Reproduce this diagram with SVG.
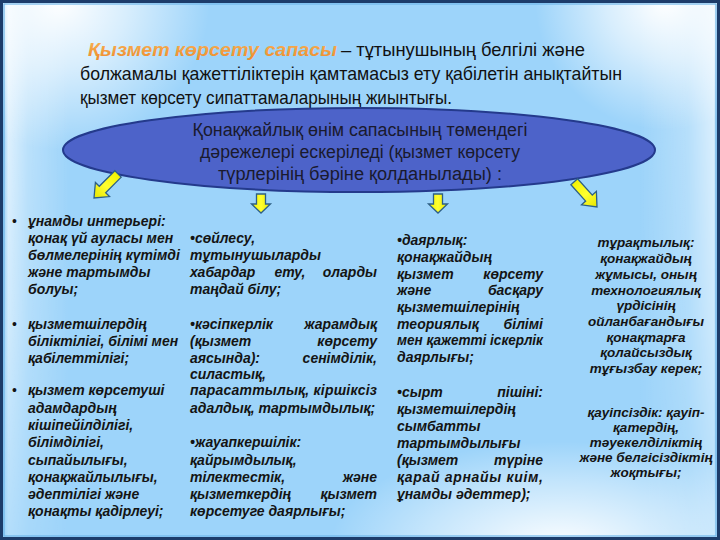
<svg xmlns="http://www.w3.org/2000/svg" width="720" height="540" viewBox="0 0 720 540">
<defs>
  <radialGradient id="glowTL" cx="60" cy="0" r="150" gradientUnits="userSpaceOnUse">
    <stop offset="0" stop-color="#ffffff" stop-opacity="1"/>
    <stop offset="0.45" stop-color="#ffffff" stop-opacity="0.6"/>
    <stop offset="1" stop-color="#ffffff" stop-opacity="0"/>
  </radialGradient>
  <radialGradient id="glowTR" cx="665" cy="0" r="130" gradientUnits="userSpaceOnUse">
    <stop offset="0" stop-color="#ffffff" stop-opacity="1"/>
    <stop offset="0.45" stop-color="#ffffff" stop-opacity="0.6"/>
    <stop offset="1" stop-color="#ffffff" stop-opacity="0"/>
  </radialGradient>
  <radialGradient id="glowB" cx="560" cy="545" r="230" gradientUnits="userSpaceOnUse" gradientTransform="translate(0 545) scale(1 0.45) translate(0 -545)">
    <stop offset="0" stop-color="#ffffff" stop-opacity="0.95"/>
    <stop offset="0.6" stop-color="#ffffff" stop-opacity="0.4"/>
    <stop offset="1" stop-color="#ffffff" stop-opacity="0"/>
  </radialGradient>
  <linearGradient id="bandL" x1="0" y1="0" x2="70" y2="0" gradientUnits="userSpaceOnUse">
    <stop offset="0" stop-color="#4aa6ea" stop-opacity="1"/>
    <stop offset="0.12" stop-color="#ffffff" stop-opacity="0.75"/>
    <stop offset="0.4" stop-color="#ffffff" stop-opacity="0.35"/>
    <stop offset="1" stop-color="#ffffff" stop-opacity="0"/>
  </linearGradient>
  <linearGradient id="bandR" x1="720" y1="0" x2="640" y2="0" gradientUnits="userSpaceOnUse">
    <stop offset="0" stop-color="#4aa6ea" stop-opacity="1"/>
    <stop offset="0.08" stop-color="#ffffff" stop-opacity="0.7"/>
    <stop offset="0.4" stop-color="#ffffff" stop-opacity="0.3"/>
    <stop offset="1" stop-color="#ffffff" stop-opacity="0"/>
  </linearGradient>
  <linearGradient id="fadeV" x1="0" y1="0" x2="0" y2="540" gradientUnits="userSpaceOnUse">
    <stop offset="0" stop-color="#ffffff" stop-opacity="1"/>
    <stop offset="0.6" stop-color="#ffffff" stop-opacity="0.7"/>
    <stop offset="1" stop-color="#ffffff" stop-opacity="0.3"/>
  </linearGradient>
  <mask id="mV"><rect width="720" height="540" fill="url(#fadeV)"/></mask>
  <linearGradient id="orange" x1="0" y1="0" x2="0" y2="1">
    <stop offset="0" stop-color="#f8b55a"/>
    <stop offset="1" stop-color="#ee8a2a"/>
  </linearGradient>
  <linearGradient id="arrowFill" x1="0" y1="0" x2="1" y2="0">
    <stop offset="0" stop-color="#f2f200"/>
    <stop offset="0.5" stop-color="#ffff30"/>
    <stop offset="1" stop-color="#e6e600"/>
  </linearGradient>
  <path id="arrDown" d="M-4.5,-19 L4.5,-19 L4.5,-9 L9.5,-9 L0,0 L-9.5,-9 L-4.5,-9 Z"/>
  <path id="arrDiag" d="M-34,-4.5 L-12,-4.5 L-12,-10 L0,0 L-12,10 L-12,4.5 L-34,4.5 Z"/>
</defs>
<style>
  .t { font-family: "Liberation Sans", Arial, sans-serif; fill: #111111; }
  .title { font-size: 19px; }
  .ell { font-size: 18px; fill: #1a1a2e; text-anchor: middle; }
  .c { font-family: "Liberation Sans", Arial, sans-serif; font-size: 14px; font-weight: bold; font-style: italic; fill: #141414; }
  .c4 { font-family: "Liberation Sans", Arial, sans-serif; font-size: 13.5px; font-weight: bold; font-style: italic; fill: #141414; text-anchor: middle; }
  .e { text-anchor: end; }
  .m { text-anchor: middle; }
  .bul { font-family: "Liberation Sans", Arial, sans-serif; font-size: 14px; fill: #141414; }
  .arrow { fill: url(#arrowFill); stroke: #2d5f86; stroke-width: 1.3; stroke-linejoin: miter; }
</style>

<!-- background -->
<rect x="0" y="0" width="720" height="540" fill="#9dd4fa"/>
<g mask="url(#mV)">
  <rect x="0" y="0" width="70" height="540" fill="url(#bandL)"/>
  <rect x="640" y="0" width="80" height="540" fill="url(#bandR)"/>
</g>
<rect x="0" y="0" width="720" height="540" fill="url(#glowTL)"/>
<rect x="0" y="0" width="720" height="540" fill="url(#glowTR)"/>
<rect x="0" y="300" width="720" height="240" fill="url(#glowB)"/>
<rect x="1.5" y="1.5" width="717" height="537" fill="none" stroke="#1d3c6a" stroke-width="3"/>
<rect x="4" y="4" width="712" height="532" fill="none" stroke="#6fb6ea" stroke-width="1.2"/>

<!-- title -->
<g id="title">
  <text class="t title" x="88" y="56"><tspan font-weight="bold" font-style="italic" fill="url(#orange)" textLength="249" lengthAdjust="spacingAndGlyphs">Қызмет көрсету сапасы</tspan></text>
  <text class="t title" x="341" y="56" textLength="244" lengthAdjust="spacingAndGlyphs">– тұтынушының белгілі және</text>
  <text class="t title" x="80" y="80" textLength="542" lengthAdjust="spacingAndGlyphs">болжамалы қажеттіліктерін қамтамасыз ету қабілетін анықтайтын</text>
  <text class="t title" x="80" y="104" textLength="372" lengthAdjust="spacingAndGlyphs">қызмет көрсету сипаттамаларының жиынтығы.</text>
</g>

<!-- central ellipse -->
<g id="center-node">
  <ellipse cx="359" cy="150" rx="296" ry="42" fill="#4d63c9" stroke="#243a8c" stroke-width="2"/>
  <text class="t ell" x="360" y="136" textLength="335" lengthAdjust="spacingAndGlyphs">Қонақжайлық өнім сапасының төмендегі</text>
  <text class="t ell" x="360" y="158" textLength="320" lengthAdjust="spacingAndGlyphs">дәрежелері ескеріледі (қызмет көрсету</text>
  <text class="t ell" x="360" y="180" textLength="284" lengthAdjust="spacingAndGlyphs">түрлерінің бәріне қолданылады) :</text>
</g>

<!-- connectors -->
<g id="connectors">
  <use href="#arrDiag" class="arrow" transform="translate(94 198) rotate(135)"/>
  <use href="#arrDown" class="arrow" transform="translate(261 213)"/>
  <use href="#arrDown" class="arrow" transform="translate(438 213)"/>
  <use href="#arrDiag" class="arrow" transform="translate(597 207) rotate(48)"/>
</g>

<!-- column 1 -->
<g id="col1">
  <text class="bul" x="12" y="226">•</text>
  <text class="c" x="28" y="226">ұнамды интерьері:</text>
  <text class="c" x="28" y="243">қонақ үй ауласы мен</text>
  <text class="c" x="28" y="260">бөлмелерінің күтімді</text>
  <text class="c" x="28" y="277">және тартымды</text>
  <text class="c" x="28" y="294">болуы;</text>
  <text class="bul" x="12" y="329">•</text>
  <text class="c" x="28" y="329">қызметшілердің</text>
  <text class="c" x="28" y="346">біліктілігі, білімі мен</text>
  <text class="c" x="28" y="363">қабілеттілігі;</text>
  <text class="bul" x="12" y="395">•</text>
  <text class="c" x="28" y="395">қызмет көрсетуші</text>
  <text class="c" x="28" y="412.5">адамдардың</text>
  <text class="c" x="28" y="430">кішіпейілділігі,</text>
  <text class="c" x="28" y="447">білімділігі,</text>
  <text class="c" x="28" y="464.5">сыпайылығы,</text>
  <text class="c" x="28" y="482">қонақжайлылығы,</text>
  <text class="c" x="28" y="499">әдептілігі және</text>
  <text class="c" x="28" y="516">қонақты қадірлеуі;</text>
</g>

<!-- column 2 -->
<g id="col2">
  <text class="c" x="190" y="243">•сөйлесу,</text>
  <text class="c" x="190" y="260">тұтынушыларды</text>
  <text class="c" x="190" y="277">хабардар</text>
  <text class="c m" x="290" y="277">ету,</text>
  <text class="c e" x="377" y="277">оларды</text>
  <text class="c" x="190" y="294">таңдай білу;</text>
  <text class="c" x="190" y="329">•кәсіпкерлік</text>
  <text class="c e" x="377" y="329">жарамдық</text>
  <text class="c" x="190" y="346">(қызмет</text>
  <text class="c e" x="377" y="346">көрсету</text>
  <text class="c" x="190" y="363">аясында):</text>
  <text class="c e" x="377" y="363">сенімділік,</text>
  <text class="c" x="190" y="379">силастық,</text>
  <text class="c" x="190" y="395" textLength="187" lengthAdjust="spacing">парасаттылық, кіршіксіз</text>
  <text class="c" x="190" y="412.5">адалдық, тартымдылық;</text>
  <text class="c" x="190" y="447">•жауапкершілік:</text>
  <text class="c" x="190" y="464.5">қайрымдылық,</text>
  <text class="c" x="190" y="482">тілектестік,</text>
  <text class="c e" x="377" y="482">және</text>
  <text class="c" x="190" y="499">қызметкердің</text>
  <text class="c e" x="377" y="499">қызмет</text>
  <text class="c" x="190" y="516">көрсетуге даярлығы;</text>
</g>

<!-- column 3 -->
<g id="col3">
  <text class="c" x="397" y="245">•даярлық:</text>
  <text class="c" x="397" y="262">қонақжайдың</text>
  <text class="c" x="397" y="278.5">қызмет</text>
  <text class="c e" x="543" y="278.5">көрсету</text>
  <text class="c" x="397" y="295">және</text>
  <text class="c e" x="543" y="295">басқару</text>
  <text class="c" x="397" y="312">қызметшілерінің</text>
  <text class="c" x="397" y="328.5">теориялық</text>
  <text class="c e" x="543" y="328.5">білімі</text>
  <text class="c" x="397" y="345" textLength="146" lengthAdjust="spacingAndGlyphs">мен қажетті іскерлік</text>
  <text class="c" x="397" y="362">даярлығы;</text>
  <text class="c" x="397" y="397">•сырт</text>
  <text class="c e" x="543" y="397">пішіні:</text>
  <text class="c" x="397" y="414">қызметшілердің</text>
  <text class="c" x="397" y="431">сымбатты</text>
  <text class="c" x="397" y="448">тартымдылығы</text>
  <text class="c" x="397" y="465">(қызмет</text>
  <text class="c e" x="543" y="465">түріне</text>
  <text class="c" x="397" y="482" textLength="146" lengthAdjust="spacing">қарай арнайы киім,</text>
  <text class="c" x="397" y="499">ұнамды әдеттер);</text>
</g>

<!-- column 4 -->
<g id="col4">
  <text class="c4" x="646" y="247">тұрақтылық:</text>
  <text class="c4" x="646" y="263">қонақжайдың</text>
  <text class="c4" x="646" y="279">жұмысы, оның</text>
  <text class="c4" x="646" y="295">технологиялық</text>
  <text class="c4" x="646" y="310">үрдісінің</text>
  <text class="c4" x="646" y="326">ойланбағандығы</text>
  <text class="c4" x="646" y="342">қонақтарға</text>
  <text class="c4" x="646" y="357">қолайсыздық</text>
  <text class="c4" x="646" y="373">тұғызбау керек;</text>
  <text class="c4" x="646" y="417">қауіпсіздік: қауіп-</text>
  <text class="c4" x="646" y="432">қатердің,</text>
  <text class="c4" x="646" y="447">тәуекелділіктің</text>
  <text class="c4" x="646" y="462">және белгісіздіктің</text>
  <text class="c4" x="646" y="477">жоқтығы;</text>
</g>
</svg>
